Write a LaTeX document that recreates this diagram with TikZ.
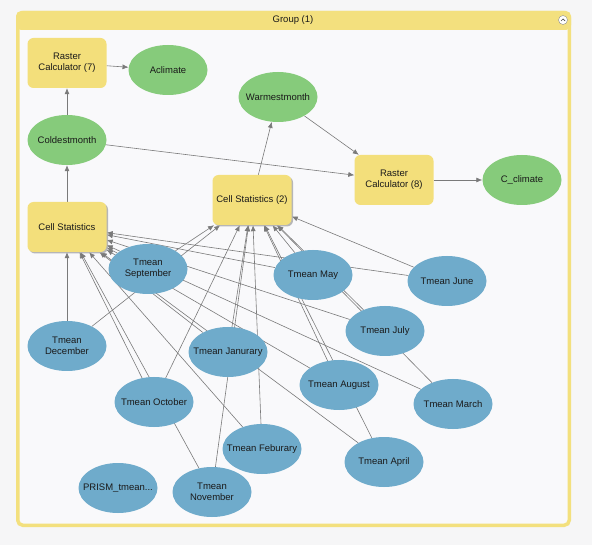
\documentclass[tikz,border=0pt]{standalone}
\usepackage{fontspec}
\setmainfont{Liberation Sans}
\usetikzlibrary{arrows.meta,shapes.geometric,shadows,backgrounds}
\definecolor{toolyellow}{HTML}{F3DF7B}
\definecolor{outgreen}{HTML}{86CB7B}
\definecolor{inblue}{HTML}{6FABCB}
\definecolor{framecol}{HTML}{F3E07E}
\definecolor{paper}{HTML}{F6F6F7}
\definecolor{inside}{HTML}{F9F9FB}
\definecolor{wire}{HTML}{7A7A7A}
\definecolor{ink}{HTML}{1A1A1A}
\tikzset{
 tool/.style={rectangle, rounded corners=6pt, fill=toolyellow, minimum width=79pt,
   minimum height=50pt, align=center, inner sep=1pt, text=ink},
 shade/.style={drop shadow={shadow xshift=1.5pt, shadow yshift=-1.5pt, fill=black!35, opacity=.8}},
 outdata/.style={ellipse, fill=outgreen, minimum width=79pt, minimum height=50pt,
   inner xsep=-10pt, inner ysep=0pt, align=center, text=ink},
 indata/.style={outdata, fill=inblue},
 wireline/.style={draw=wire, line width=.6pt},
 flow/.style={wireline, -{Latex[length=6pt,width=5pt]}}
}
\begin{document}
\begin{tikzpicture}[x=1pt, y=-1pt, font=\fontsize{9.5}{11}\selectfont, line join=round]
 % group frame
 \begin{pgfonlayer}{background}
 \fill[paper] (0,0) rectangle (592,545);
 \fill[inside] (18,28) rectangle (569,525);
 \draw[framecol, line width=3.5pt, rounded corners=5pt] (17.75,12.75) rectangle (569.25,525.25);
 \fill[framecol, rounded corners=5pt] (16,11) rectangle (571,30);
 \end{pgfonlayer}
 \useasboundingbox (0,0) rectangle (592,545);
 \node[text=ink] (title) at (293,20) {Group (1)};
 \node[circle, draw=black!45, fill=white, inner sep=0pt, minimum size=9pt] (fold) at (563,20) {};
 \draw[black!70, line width=.7pt] (561,21) -- (563,19) -- (565,21);

 % tools and outputs
 \node[tool] (rc7) at (67,63) {Raster\\Calculator (7)};
 \node[outdata] (aclim) at (168,70) {Aclimate};
 \node[outdata] (warm) at (278,97) {Warmestmonth};
 \node[outdata] (cold) at (67,140) {Coldestmonth};
 \node[tool,shade] (cs) at (67,227) {Cell Statistics};
 \node[tool,shade] (cs2) at (252,200) {Cell Statistics (2)};
 \node[tool] (rc8) at (394,180) {Raster\\Calculator (8)};
 \node[outdata] (cclim) at (522,180) {C\_climate};

 % monthly inputs
 \foreach\n/\x/\y/\t in {sep/148/269/{Tmean\\September}, dec/67/346/{Tmean\\December},
   jan/228/352/{Tmean Janurary}, oct/154/402/{Tmean October}, feb/262/449/{Tmean Feburary},
   nov/212/492/{Tmean\\November}, may/313/275/{Tmean May}, jun/447/281/{Tmean June},
   jul/385/331/{Tmean July}, aug/339/385/{Tmean August}, mar/453/404/{Tmean March},
   apr/384/462/{Tmean April}}
   {\node[indata] (\n) at (\x,\y) {\t};}
 \node[indata] (prism) at (118,488) {PRISM\_tmean...};

 \begin{pgfonlayer}{background}
 \foreach\m in {sep,dec,jan,oct,feb,nov,may,jun,jul,aug,mar,apr}
   {\draw[flow] (\m) -- (cs); \draw[flow] (\m) -- (cs2);}
 \draw[flow] (cs) -- (cold);
 \draw[flow] (cold) -- (rc7);
 \draw[flow] (rc7) -- (aclim);
 \draw[flow] (cs2) -- (warm);
 \draw[flow] (warm) -- (rc8);
 \draw[flow] (cold) -- (rc8);
 \draw[flow] (rc8) -- (cclim);
 \end{pgfonlayer}
\end{tikzpicture}
\end{document}
